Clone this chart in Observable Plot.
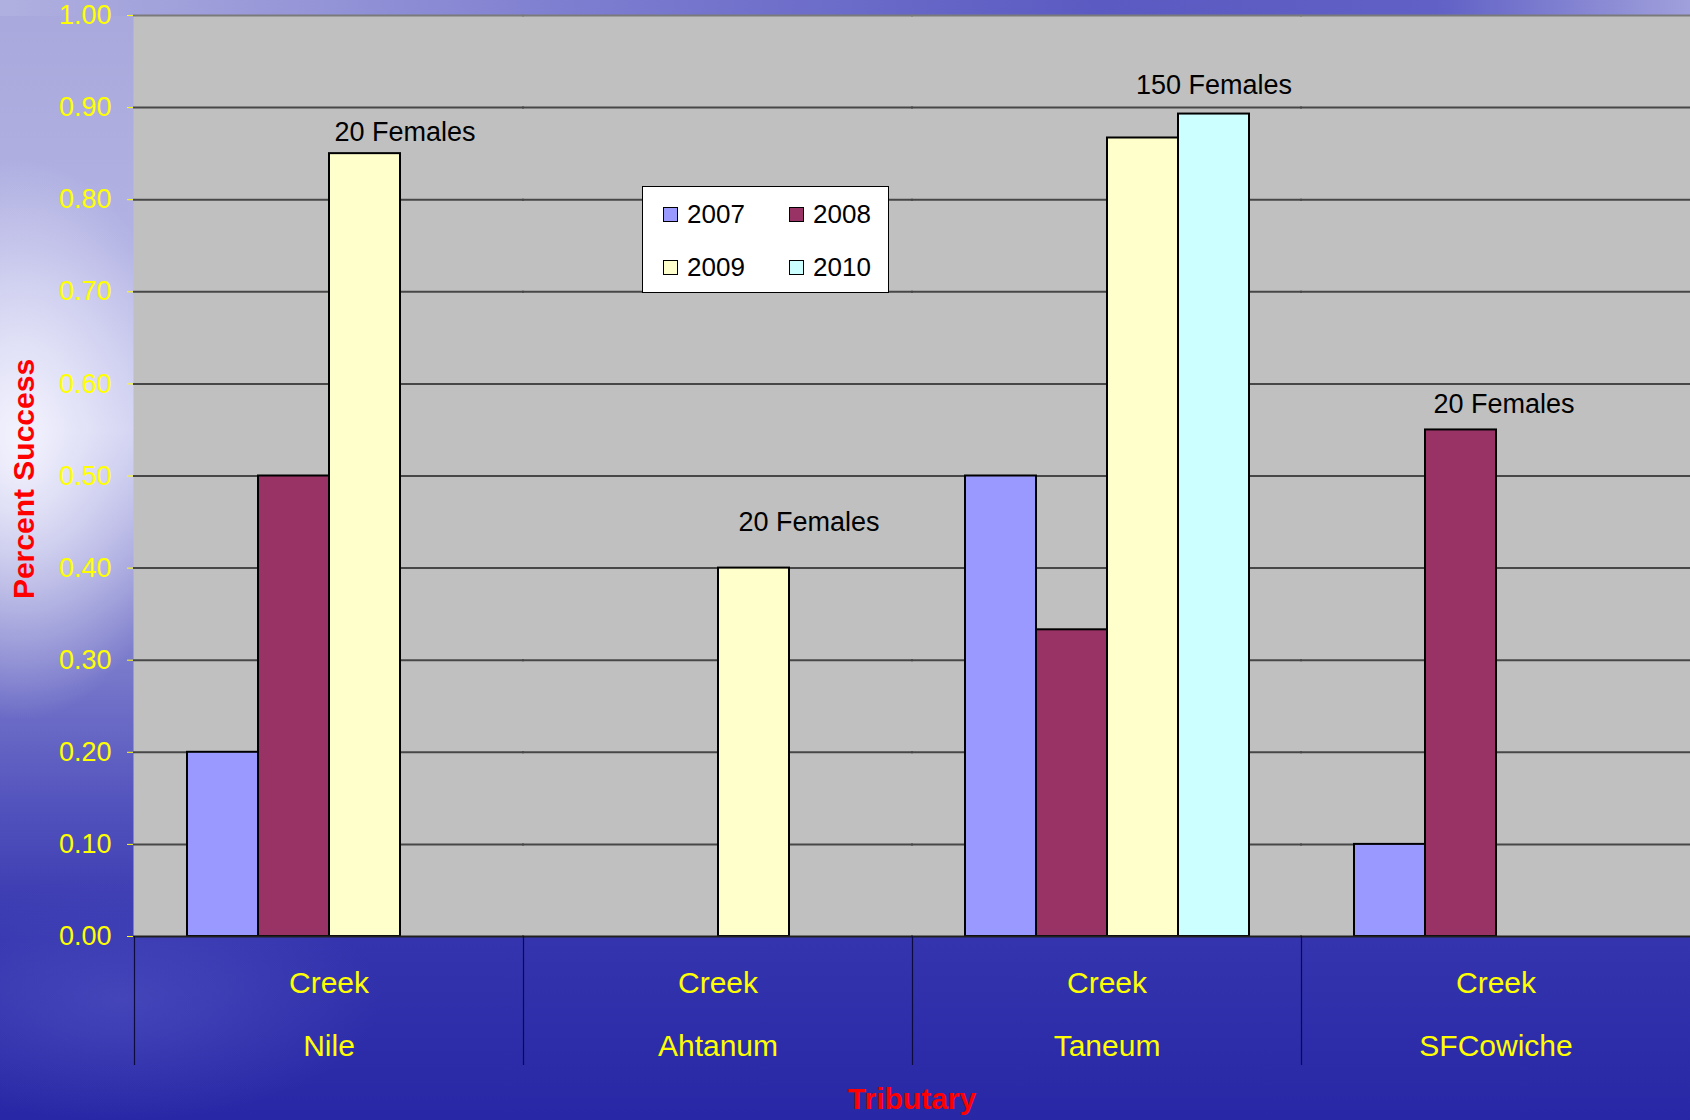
<!DOCTYPE html>
<html>
<head>
<meta charset="utf-8">
<script src="https://cdn.jsdelivr.net/npm/d3@7"></script>
<script src="https://cdn.jsdelivr.net/npm/@observablehq/plot@0.6"></script>
<style>
  html, body { margin: 0; padding: 0; }
  body { width: 1690px; height: 1120px; overflow: hidden; font-family: "Liberation Sans", Arial, sans-serif; }
  #stage {
    position: relative; width: 1690px; height: 1120px; overflow: hidden;
    background:
      linear-gradient(to right, #b0b0e0 0%, #7c7cd0 35%, #5a5ac2 65%, #6060c6 85%, #a0a0dc 100%) top left / 100% 16px no-repeat,
      radial-gradient(ellipse 170px 280px at 20px 440px, rgba(246,246,255,0.95), rgba(246,246,255,0) 100%),
      radial-gradient(ellipse 260px 120px at 120px 1000px, rgba(90,90,200,0.5), rgba(90,90,200,0) 100%),
      linear-gradient(to bottom, #a8a8dc 0px, #b2b2e4 250px, #c6c6ee 430px, #8686d0 620px, #5454be 800px, #3434ae 940px, #2828a6 1120px);
  }
  #chart { position: absolute; left: 0; top: 0; }
  .legend {
    position: absolute; left: 642px; top: 186px; width: 247px; height: 107px;
    background: #ffffff; border: 1.5px solid #000; box-sizing: border-box;
  }
  .legend .item { position: absolute; display: flex; align-items: center; height: 30px; font-size: 26px; color: #000; }
  .legend .sw { width: 13px; height: 13px; border: 1.5px solid #000; margin-right: 9px; }
  .ytitle {
    position: absolute; left: 24px; top: 479px; transform: translate(-50%, -50%) rotate(-90deg);
    color: #ff0000; font-weight: bold; font-size: 30px; white-space: nowrap;
  }
  .xtitle {
    position: absolute; left: 912px; top: 1099px; transform: translate(-50%, -50%);
    color: #ff0000; font-weight: bold; font-size: 30px; white-space: nowrap;
  }
</style>
</head>
<body>
<div id="stage"></div>
<script>
// ---- data ----
const tribs = ["Nile", "Ahtanum", "Taneum", "SFCowiche"];
const tribPrefix = "Creek";
const years = ["2007", "2008", "2009", "2010"];
const colors = ["#9999ff", "#993366", "#ffffcc", "#ccffff"];
// values per series, in tributary order
const v2007 = [0.20, null, 0.50, 0.10];
const v2008 = [0.50, null, 0.333, 0.55];
const v2009 = [0.85, 0.40, 0.867, null];
const v2010 = [null, null, 0.893, null];
const yTicks = [0, 0.1, 0.2, 0.3, 0.4, 0.5, 0.6, 0.7, 0.8, 0.9, 1.0];
// annotations
const annTrib = ["Nile", "Ahtanum", "Taneum", "SFCowiche"];
const annYear = ["2009", "2009", "2010", "2008"];
const annY = [0.873, 0.450, 0.924, 0.578];
const annText = ["20 Females", "20 Females", "150 Females", "20 Females"];
const yTitle = "Percent Success";
const xTitle = "Tributary";

// ---- build table ----
const seriesValues = [v2007, v2008, v2009, v2010];
const rows = [];
years.forEach((yr, i) => tribs.forEach((t, j) => {
  const v = seriesValues[i][j];
  if (v != null) rows.push({trib: t, year: yr, value: v});
}));
const anns = annTrib.map((t, i) => ({trib: t, year: annYear[i], y: annY[i], text: annText[i]}));
const annDx = [40, 55, 0, 43];

const font = "'Liberation Sans', Arial, sans-serif";
const chart = Plot.plot({
  width: 1690, height: 1120,
  marginLeft: 133, marginRight: 0, marginTop: 15, marginBottom: 184,
  style: {background: "transparent", color: "#ffff00", fontFamily: font, fontSize: "27px", overflow: "visible"},
  fx: {domain: tribs, padding: 0, axis: null, label: null},
  x: {domain: years, paddingInner: 0, paddingOuter: 0.714, axis: null},
  y: {domain: [0, 1], ticks: yTicks, tickFormat: d => d.toFixed(2), tickSize: 7, tickPadding: 16, label: null, line: true},
  color: {domain: years, range: colors},
  marks: [
    Plot.frame({fill: "#c0c0c0", stroke: "none", insetLeft: -1, insetRight: -1}),
    Plot.ruleY(yTicks.filter(d => d > 0 && d < 1), {stroke: "#474747", strokeWidth: 2, insetLeft: -1, insetRight: -1}),
    Plot.ruleY(yTicks.filter(d => d === 1), {stroke: "#7a7a7a", strokeWidth: 2, insetLeft: -1, insetRight: -1}),
    Plot.barY(rows, {fx: "trib", x: "year", y: "value", fill: "year", stroke: "#000", strokeWidth: 2}),
    Plot.ruleY([0], {stroke: "#202020", strokeWidth: 2, insetLeft: -1, insetRight: -1}),
    ...anns.map((a, i) => Plot.text([a], {fx: "trib", x: "year", y: "y", text: "text", fill: "#000", fontSize: 27, dx: annDx[i]})),
    Plot.text(tribs, {fx: d => d, text: () => tribPrefix, frameAnchor: "bottom", dy: 56, fill: "#ffff00", fontSize: 30}),
    Plot.text(tribs, {fx: d => d, text: d => d, frameAnchor: "bottom", dy: 119, fill: "#ffff00", fontSize: 30})
  ]
});
chart.id = "chart";
const stage = document.getElementById("stage");
stage.appendChild(chart);

// category dividers below the axis at the fx band edges
const fxs = chart.scale("fx");
const svg = d3.select(chart);
tribs.forEach(t => {
  const x0 = Math.round(fxs.apply(t)) + 0.5;
  svg.append("line").attr("x1", x0).attr("x2", x0).attr("y1", 936).attr("y2", 1065)
    .attr("stroke", "#0c0c40").attr("stroke-width", 1.2);
});

// legend
const legend = document.createElement("div");
legend.className = "legend";
years.forEach((yr, i) => {
  const it = document.createElement("div");
  it.className = "item";
  it.style.left = (i % 2 === 0 ? 20 : 146) + "px";
  it.style.top = (i < 2 ? 12 : 65) + "px";
  const sw = document.createElement("span");
  sw.className = "sw";
  sw.style.background = colors[i];
  it.appendChild(sw);
  it.appendChild(document.createTextNode(yr));
  legend.appendChild(it);
});
stage.appendChild(legend);

const yt = document.createElement("div");
yt.className = "ytitle"; yt.textContent = yTitle;
stage.appendChild(yt);
const xt = document.createElement("div");
xt.className = "xtitle"; xt.textContent = xTitle;
stage.appendChild(xt);
</script>
</body>
</html>
